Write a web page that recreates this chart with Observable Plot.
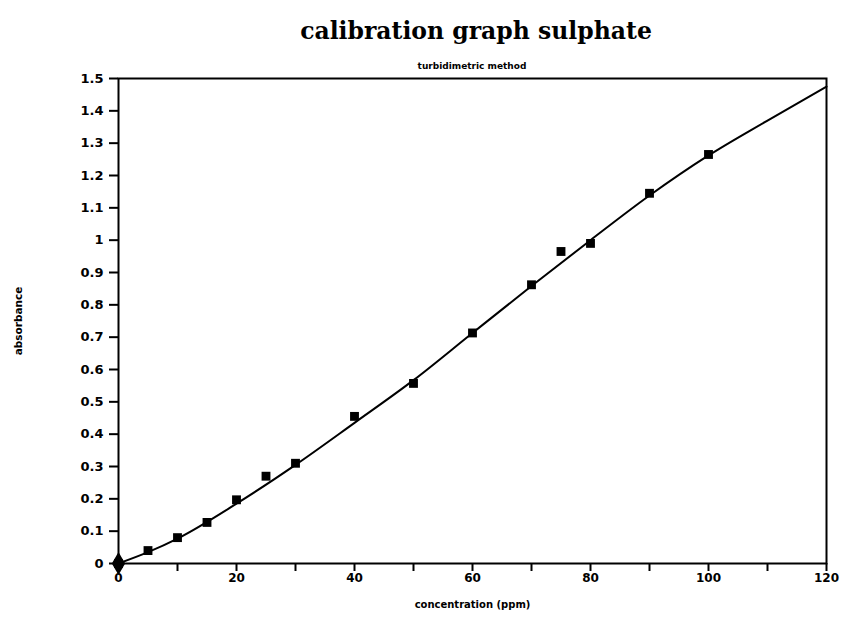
<!DOCTYPE html>
<html><head><meta charset="utf-8">
<script src="https://cdn.jsdelivr.net/npm/d3@7"></script>
<script src="https://cdn.jsdelivr.net/npm/@observablehq/plot@0.6"></script>
<style>
body{margin:0;background:#fff;width:841px;height:626px;overflow:hidden}
#hdr{height:70px;position:relative;width:841px}
#title{position:absolute;left:122px;width:708px;top:17px;text-align:center;font:bold 23.5px "DejaVu Serif";color:#000;white-space:nowrap}
#sub{position:absolute;left:118px;width:708px;top:61px;text-align:center;font:bold 9px "DejaVu Sans";color:#000;white-space:nowrap}
</style></head><body>
<div id="hdr"><div id="title">calibration graph sulphate</div><div id="sub">turbidimetric method</div></div>
<div id="chart"></div>
<script>
// measured points
const concentration = [0, 5, 10, 15, 20, 25, 30, 40, 50, 60, 70, 75, 80, 90, 100];
const absorbance = [0, 0.04, 0.08, 0.127, 0.197, 0.27, 0.31, 0.455, 0.557, 0.713, 0.862, 0.965, 0.99, 1.145, 1.265];
// fitted calibration curve
const fitConcentration = [0, 5, 10, 20, 30, 40, 50, 60, 70, 80, 90, 100, 110, 120];
const fitAbsorbance = [0, 0.035, 0.077, 0.185, 0.305, 0.435, 0.567, 0.713, 0.858, 1.0, 1.138, 1.262, 1.37, 1.475];
// axis ticks
const xTicks = [0, 10, 20, 30, 40, 50, 60, 70, 80, 90, 100, 110, 120];
const xTickLabels = ["0", "", "20", "", "40", "", "60", "", "80", "", "100", "", "120"];
const yTicks = [0, 0.1, 0.2, 0.3, 0.4, 0.5, 0.6, 0.7, 0.8, 0.9, 1, 1.1, 1.2, 1.3, 1.4, 1.5];
const yTickLabels = ["0", "0.1", "0.2", "0.3", "0.4", "0.5", "0.6", "0.7", "0.8", "0.9", "1", "1.1", "1.2", "1.3", "1.4", "1.5"];
const xLabel = ["concentration (ppm)"];
const yLabel = ["absorbance"];

const points = concentration.map((c, i) => ({c, a: absorbance[i]}));
const fit = fitConcentration.map((c, i) => ({c, a: fitAbsorbance[i]}));

const chart = Plot.plot({
  width: 841,
  height: 556,
  marginLeft: 118,
  marginRight: 15,
  marginTop: 8,
  marginBottom: 63,
  x: {domain: [0, 120]},
  y: {domain: [0, 1.5]},
  style: {fontFamily: "DejaVu Sans", fontWeight: "bold", color: "#000", background: "#fff"},
  marks: [
    Plot.axisY(yTicks, {tickSize: 9, tickPadding: 6, strokeWidth: 2, fontSize: 13,
      tickFormat: d => yTickLabels[yTicks.indexOf(d)], label: null}),
    Plot.axisX(xTicks, {tickSize: 8, tickPadding: 2, strokeWidth: 2, fontSize: 12,
      tickFormat: d => xTickLabels[xTicks.indexOf(d)], label: null}),
    Plot.frame({strokeWidth: 2}),
    Plot.line(fit, {x: "c", y: "a", curve: "monotone-x", strokeWidth: 2, stroke: "black"}),
    Plot.dot(points, {x: "c", y: "a", symbol: "square", r: 5, fill: "black"}),
    Plot.dot(points.slice(0, 1), {x: "c", y: "a", symbol: "diamond", r: 7, fill: "black"}),
    Plot.text(xLabel, {text: d => d, frameAnchor: "bottom", dy: 44, fontSize: 10}),
    Plot.text(yLabel, {text: d => d, frameAnchor: "left", textAnchor: "middle", rotate: -90, dx: -100, fontSize: 10.5, fill: "black"})
  ]
});
document.getElementById("chart").appendChild(chart);
</script>
</body></html>
